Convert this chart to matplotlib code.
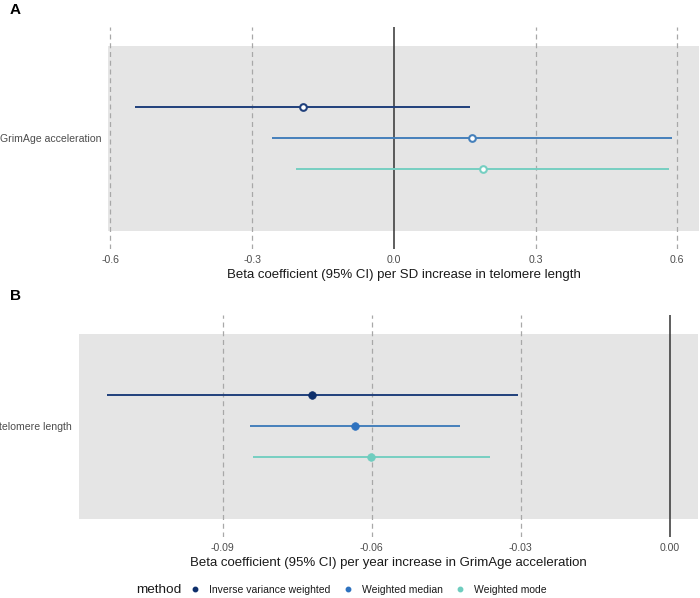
import matplotlib
matplotlib.use("Agg")
import matplotlib.pyplot as plt
from matplotlib.lines import Line2D
import numpy as np

plt.rcParams['font.family'] = ['Liberation Sans', 'DejaVu Sans']

methods = ["Inverse variance weighted", "Weighted median", "Weighted mode"]
colors = ["#20407c", "#4580bb", "#76cfc2"]
point_colors_b = ["#0e2f6b", "#2e72bf", "#6fcdbf"]

# Panel A: exposure telomere length -> outcome GrimAge acceleration
a_label = "GrimAge acceleration"
a_beta = [-0.193, 0.166, 0.189]
a_lo = [-0.548, -0.258, -0.206]
a_hi = [0.161, 0.589, 0.582]
a_ticks = [-0.6, -0.3, 0.0, 0.3, 0.6]
a_ticklabels = ["-0.6", "-0.3", "0.0", "0.3", "0.6"]
a_xlabel = "Beta coefficient (95% CI) per SD increase in telomere length"

# Panel B: exposure GrimAge acceleration -> outcome telomere length
b_label = "telomere length"
b_beta = [-0.0720, -0.0633, -0.0601]
b_lo = [-0.1133, -0.0846, -0.0840]
b_hi = [-0.0306, -0.0422, -0.0362]
b_ticks = [-0.09, -0.06, -0.03, 0.00]
b_ticklabels = ["-0.09", "-0.06", "-0.03", "0.00"]
b_xlabel = "Beta coefficient (95% CI) per year increase in GrimAge acceleration"

offsets = [1/6, 0.0, -1/6]

W, H = 700, 598
fig = plt.figure(figsize=(7.0, 5.98), dpi=100)

def px_rect(l, t, r, b):
    return [l / W, 1 - b / H, (r - l) / W, (b - t) / H]

def panel(ax, label, beta, lo, hi, ticks, ticklabels, xlabel, hollow, pcols):
    allv = np.array(lo + hi + [0.0])
    mn, mx = allv.min(), allv.max()
    pad = 0.05 * (mx - mn)
    ax.set_xlim(mn - pad, mx + pad)
    ax.set_ylim(0.4, 1.6)
    ax.axhspan(0.5, 1.5, color="#e5e5e5", zorder=0, lw=0)
    for t in ticks:
        if t != 0:
            ax.axvline(t, color="#a8a8a8", lw=0.9, ls=(0, (4, 3)), zorder=1)
    ax.axvline(0, color="#333333", lw=1.1, zorder=2)
    for i in range(3):
        y = 1 + offsets[i]
        ax.plot([lo[i], hi[i]], [y, y], color=colors[i], lw=1.4, zorder=3,
                solid_capstyle="butt")
        if hollow:
            ax.plot([beta[i]], [y], marker="o", ms=4.8, mfc="white",
                    mec=colors[i], mew=1.5, zorder=4, ls="none")
        else:
            ax.plot([beta[i]], [y], marker="o", ms=5.5, mfc=pcols[i],
                    mec=pcols[i], mew=0.5, zorder=4, ls="none")
    ax.set_xticks(ticks)
    ax.set_xticklabels(ticklabels)
    ax.set_yticks([1])
    ax.set_yticklabels([label])
    ax.tick_params(axis="both", length=0, labelsize=7.6, colors="#4d4d4d", pad=4)
    ax.tick_params(axis="y", pad=5)
    ax.set_xlabel(xlabel, fontsize=9.5, color="#1a1a1a", labelpad=3)
    for s in ax.spines.values():
        s.set_visible(False)
    ax.set_facecolor("none")

axA = fig.add_axes(px_rect(108, 27, 699, 249))
panel(axA, a_label, a_beta, a_lo, a_hi, a_ticks, a_ticklabels, a_xlabel, True, colors)

axB = fig.add_axes(px_rect(79, 315, 698, 537))
panel(axB, b_label, b_beta, b_lo, b_hi, b_ticks, b_ticklabels, b_xlabel, False, point_colors_b)

fig.text(10 / W, 1 - 10 / H, "A", fontsize=11, fontweight="bold", va="center", ha="left")
fig.text(10 / W, 1 - 296 / H, "B", fontsize=11, fontweight="bold", va="center", ha="left")

fig.text(136 / W, 1 - 590 / H, "method", fontsize=9.7, va="center", ha="left", color="#1a1a1a")
handles = [Line2D([], [], ls="none", marker="o", ms=3.2, mfc=point_colors_b[i],
                  mec=point_colors_b[i]) for i in range(3)]
fig.legend(handles, methods, loc="center left", bbox_to_anchor=(191 / W, 1 - 590 / H),
           ncol=3, frameon=False, fontsize=7.5, handlelength=0.8, handletextpad=0.95,
           columnspacing=1.23, labelcolor="#1a1a1a", borderpad=0, borderaxespad=0)

fig.savefig("out.png", dpi=100)
